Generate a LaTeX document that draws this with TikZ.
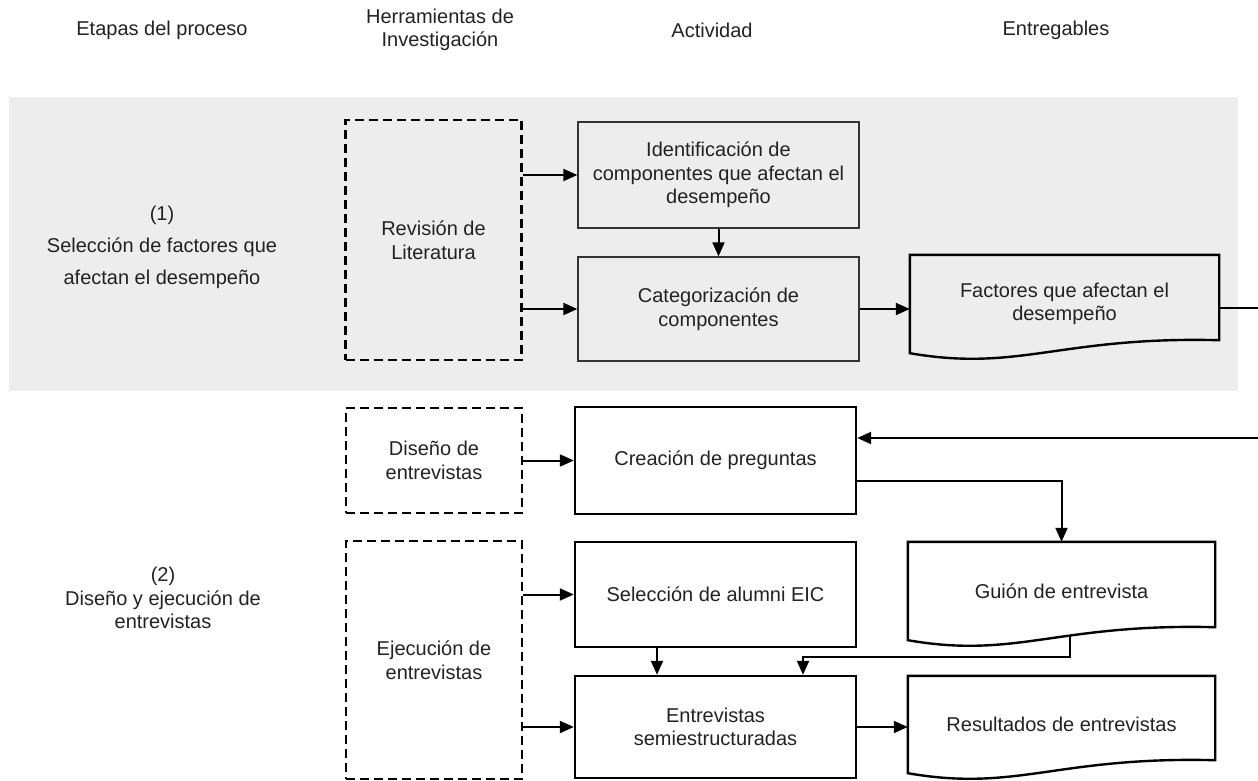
\documentclass[tikz,border=0pt]{standalone}
\usepackage{fontspec}
\setmainfont{Liberation Sans}
\usetikzlibrary{arrows.meta,calc}
\definecolor{band}{HTML}{EDEDED}
\definecolor{txt}{HTML}{222222}
\newcommand\docshape[1]{%
  \draw[docline] (#1.north west) -- (#1.north east) -- ([yshift=13pt]#1.south east)
    .. controls ($(#1.south west)!0.485!(#1.south east)+(0,17pt)$) and ($(#1.south west)!0.356!(#1.south east)+(0,-19pt)$) .. (#1.south west)
    coordinate[pos=0.4] (#1-b) -- cycle;}
\begin{document}
\begin{tikzpicture}[x=1pt,y=-1pt,
  font=\fontsize{20}{23.5}\selectfont, text=txt,
  dbox/.style={draw=black,line width=2.3pt,dash pattern=on 9pt off 5pt,inner sep=0pt,align=center,minimum width=176pt},
  thinbox/.style={draw=black!80,line width=1.3pt,inner sep=0pt,align=center,minimum width=281pt},
  thickbox/.style={draw=black,line width=2.4pt,inner sep=0pt,align=center,minimum width=281pt},
  docnode/.style={inner sep=0pt,align=center,minimum width=307pt},
  docline/.style={draw=black,line width=2.4pt,line join=miter},
  arr/.style={line width=2pt,-{Triangle[length=14pt,width=12pt]}},
  link/.style={line width=2pt},
  hdr/.style={align=center,inner sep=0pt}]
\useasboundingbox (0,0) rectangle (1258,781);
\fill[band] (9,97) rectangle (1238,391);

% headers
\node[hdr] (h1) at (162,30) {Etapas del proceso};
\node[hdr] (h2) at (440,30) {Herramientas de\\Investigación};
\node[hdr] (h3) at (712,30) {Actividad};
\node[hdr] (h4) at (1056,30) {Entregables};

% stage labels
\node[hdr] (s1) at (162,247) {(1)\\[8.5pt]Selección de factores que\\[8.5pt]afectan el desempeño};
\node[hdr] (s2) at (163,598) {(2)\\Diseño y ejecución de\\entrevistas};

% tools
\node[dbox,minimum height=240pt] (Rev) at (433.5,240) {Revisión de\\Literatura};
\node[dbox,minimum height=105pt] (Dis) at (434,460.5) {Diseño de\\entrevistas};
\node[dbox,minimum height=238pt] (Eje) at (434,660) {Ejecución de\\entrevistas};

% activities
\node[thinbox,minimum height=106pt] (Ide) at (718.5,175) {Identificación de\\componentes que afectan el\\desempeño};
\node[thinbox,minimum height=104pt] (Cat) at (718.5,309) {Categorización de\\componentes};
\node[thickbox,minimum height=107pt] (Cre) at (715.5,460.5) {Creación de preguntas};
\node[thickbox,minimum height=105pt] (Sel) at (715.5,594.5) {Selección de alumni EIC};
\node[thickbox,minimum height=102pt] (Ent) at (715.5,727) {Entrevistas\\semiestructuradas};

% deliverables
\node[docnode,minimum width=309pt,minimum height=98pt] (Fac) at (1064.5,304) {Factores que afectan el\\desempeño};
\node[docnode,minimum height=98pt] (Gui) at (1061.5,591) {Guión de entrevista};
\node[docnode,minimum height=97pt] (Res) at (1061.5,724.5) {Resultados de entrevistas};
\docshape{Fac}
\docshape{Gui}
\docshape{Res}

% helper coordinates
\coordinate (outA) at (1258,308);
\coordinate (outB) at (1258,438);
\coordinate (gy) at (0,657);

% connectors
\draw[arr] (Rev.east |- Ide.west) -- (Ide.west);
\draw[arr] (Rev.east |- Cat.west) -- (Cat.west);
\draw[arr] (Ide.south) -- (Cat.north);
\draw[arr] (Cat.east) -- (Cat.east -| Fac.west);
\draw[link] ([yshift=-4pt]Fac.east) -- (outA);
\draw[arr] (outB) -- (outB -| Cre.east);
\draw[arr] ([yshift=-20pt]Cre.east) -| (Gui.north);
\draw[arr] (Dis.east) -- (Cre.west);
\draw[arr] (Eje.east |- Sel.west) -- (Sel.west);
\draw[arr] (Eje.east |- Ent.west) -- (Ent.west);
\draw[arr] ([xshift=-58.5pt]Sel.south) -- ([xshift=-58.5pt]Ent.north);
\draw[arr] (Gui-b) -- (Gui-b |- gy) -| ([xshift=87.5pt]Ent.north);
\draw[arr] (Ent.east) -- (Ent.east -| Res.west);
\end{tikzpicture}
\end{document}
